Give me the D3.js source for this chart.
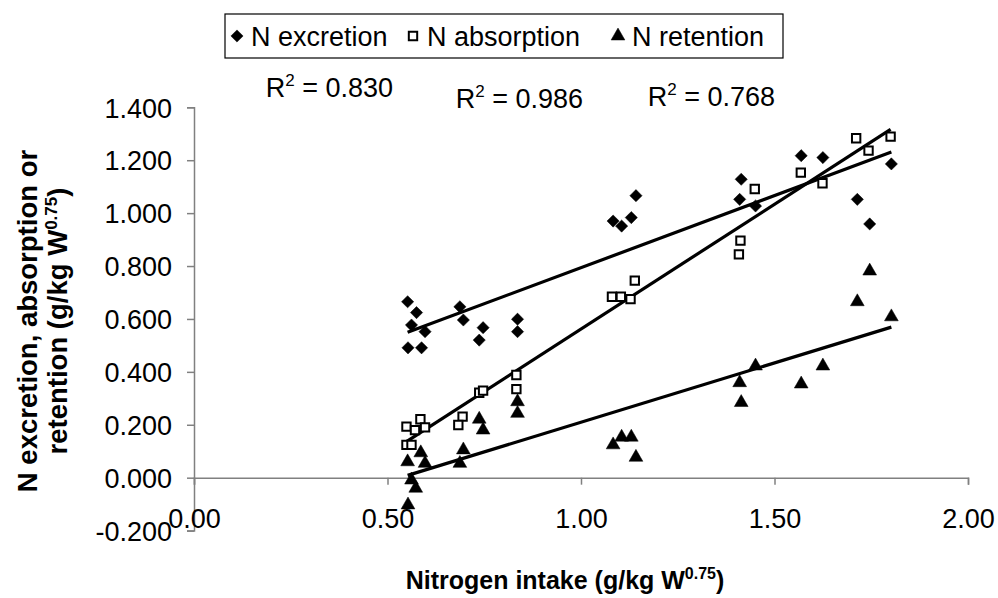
<!DOCTYPE html>
<html>
<head>
<meta charset="utf-8">
<script src="https://cdn.jsdelivr.net/npm/d3@7/dist/d3.min.js"></script>
<style>
  html, body { margin: 0; padding: 0; background: #fff; }
  svg { display: block; font-family: "Liberation Sans", Arial, sans-serif; }
</style>
</head>
<body>
<svg id="chart" width="998" height="598"></svg>
<script>
// Nitrogen intake (g/kg W^0.75) for each observation
const intakeExcretion = [0.552, 0.575, 0.562, 0.597, 0.553, 0.588,
  0.687, 0.696, 0.747, 0.737, 0.836, 0.836,
  1.083, 1.105, 1.130, 1.142,
  1.414, 1.410, 1.451, 1.569, 1.625, 1.714, 1.746, 1.802];
const excretion = [0.665, 0.624, 0.577, 0.552, 0.491, 0.491,
  0.646, 0.596, 0.567, 0.520, 0.599, 0.552,
  0.970, 0.951, 0.983, 1.066,
  1.128, 1.052, 1.027, 1.217, 1.210, 1.052, 0.959, 1.186];

const intakeAbsorption = [0.549, 0.585, 0.571, 0.597, 0.549, 0.562,
  0.694, 0.683, 0.737, 0.747, 0.833, 0.833,
  1.080, 1.103, 1.128, 1.139,
  1.449, 1.412, 1.408, 1.568, 1.624, 1.711, 1.743, 1.800];
const absorption = [0.193, 0.221, 0.180, 0.190, 0.124, 0.124,
  0.231, 0.199, 0.321, 0.329, 0.388, 0.335,
  0.684, 0.684, 0.675, 0.745,
  1.091, 0.896, 0.844, 1.153, 1.113, 1.283, 1.236, 1.289];

const intakeRetention = [0.552, 0.586, 0.597, 0.562, 0.573, 0.553,
  0.696, 0.687, 0.737, 0.747, 0.836, 0.836,
  1.083, 1.105, 1.130, 1.142,
  1.451, 1.410, 1.414, 1.569, 1.625, 1.714, 1.746, 1.802];
const retention = [0.060, 0.094, 0.054, -0.009, -0.040, -0.103,
  0.105, 0.054, 0.221, 0.180, 0.287, 0.243,
  0.124, 0.153, 0.153, 0.077,
  0.422, 0.359, 0.284, 0.354, 0.422, 0.665, 0.781, 0.608];

const seriesNames = ["N excretion", "N absorption", "N retention"];
const rSquared = ["0.830", "0.986", "0.768"];
const xTicks = [0, 0.5, 1, 1.5, 2];
const yTicks = [-0.2, 0, 0.2, 0.4, 0.6, 0.8, 1.0, 1.2, 1.4];

const series = [
  { name: seriesNames[0], xs: intakeExcretion, ys: excretion, symbol: d3.symbolDiamond2, fill: "#000" },
  { name: seriesNames[1], xs: intakeAbsorption, ys: absorption, symbol: d3.symbolSquare, fill: "#fff" },
  { name: seriesNames[2], xs: intakeRetention, ys: retention, symbol: d3.symbolTriangle, fill: "#000" }
];

const svg = d3.select("#chart");
const x = d3.scaleLinear().domain([0, 2]).range([194, 968]);
const y = d3.scaleLinear().domain([-0.2, 1.4]).range([530.6, 107.3]);
const axisColor = "#808080";
const hyphen = f => d => f(d).replace("\u2212", "-");

// Y axis (vertical line at x = 0)
const yAxis = svg.append("g").attr("transform", `translate(${x(0)},0)`)
  .call(d3.axisLeft(y).tickValues(yTicks).tickFormat(hyphen(d3.format(".3f"))).tickSize(7).tickPadding(15));
yAxis.select(".domain").attr("stroke", axisColor).attr("stroke-width", 1.5);
yAxis.selectAll(".tick line").attr("stroke", axisColor).attr("stroke-width", 1.5);
yAxis.selectAll(".tick text").attr("fill", "#000").style("font-size", "27px").attr("dy", "0.36em");

// X axis drawn through y = 0, labels below the plot bottom
const xAxis = svg.append("g").attr("transform", `translate(0,${y(0)})`)
  .call(d3.axisBottom(x).tickValues(xTicks).tickFormat(d3.format(".2f")).tickSize(7).tickPadding(0));
xAxis.select(".domain").attr("stroke", axisColor).attr("stroke-width", 1.5);
xAxis.selectAll(".tick line").attr("stroke", axisColor).attr("stroke-width", 1.5);
xAxis.selectAll(".tick text").attr("fill", "#000").style("font-size", "27px")
  .attr("y", y(-0.2) - y(0) - 12).attr("dy", "0.36em");

// Least-squares trend lines over each series' intake range
function fit(xs, ys) {
  const mx = d3.mean(xs), my = d3.mean(ys);
  let sxy = 0, sxx = 0;
  xs.forEach((v, i) => { sxy += (v - mx) * (ys[i] - my); sxx += (v - mx) * (v - mx); });
  const b = sxy / sxx;
  return { a: my - b * mx, b };
}
const line = d3.line().x(d => x(d[0])).y(d => y(d[1]));
series.forEach(s => {
  const f = fit(s.xs, s.ys);
  const [lo, hi] = d3.extent(s.xs);
  svg.append("path")
    .attr("d", line([[lo, f.a + f.b * lo], [hi, f.a + f.b * hi]]))
    .attr("stroke", "#000").attr("stroke-width", 3.2).attr("fill", "none");
});

// Markers
function marker(sel, s) {
  const sz = s.symbol === d3.symbolSquare ? 70 : (s.symbol === d3.symbolTriangle ? 82 : 95);
  return sel.attr("d", d3.symbol().type(s.symbol).size(sz))
    .attr("fill", s.fill).attr("stroke", "#000")
    .attr("stroke-width", s.symbol === d3.symbolSquare ? 2 : 0.5);
}
series.forEach(s => {
  svg.append("g").selectAll("path").data(s.xs).join("path")
    .attr("transform", (d, i) => `translate(${x(d)},${y(s.ys[i])})`)
    .call(sel => marker(sel, s));
});

// R² annotations
const rPos = [[393, 97], [583, 108], [775, 106]];
rSquared.forEach((r, i) => {
  const t = svg.append("text").attr("x", rPos[i][0]).attr("y", rPos[i][1])
    .attr("text-anchor", "end").style("font-size", "27px").attr("fill", "#000");
  t.append("tspan").text("R");
  t.append("tspan").text("2").attr("dy", -11).style("font-size", "17px");
  t.append("tspan").text(" = " + r).attr("dy", 11);
});

// Legend
const legend = svg.append("g");
legend.append("rect").attr("x", 225).attr("y", 14).attr("width", 558).attr("height", 44)
  .attr("fill", "#fff").attr("stroke", "#000").attr("stroke-width", 1.2);
const legendX = [237, 413, 618];
series.forEach((s, i) => {
  legend.append("path").attr("transform", `translate(${legendX[i]},36)`).call(sel => marker(sel, s));
  legend.append("text").attr("x", legendX[i] + 14).attr("y", 36).attr("dy", "0.36em")
    .style("font-size", "27px").text(s.name);
});

// Axis titles
const yt = svg.append("text").attr("transform", "translate(0,321) rotate(-90)")
  .attr("text-anchor", "middle").style("font-size", "27.5px").style("font-weight", "bold");
yt.append("tspan").attr("x", 0).attr("y", 37).text("N excretion, absorption or");
const l2 = yt.append("tspan").attr("x", 0).attr("y", 67).text("retention (g/kg W");
l2.append("tspan").text("0.75").attr("dy", -10).style("font-size", "17px");
l2.append("tspan").text(")").attr("dy", 10);

const xt = svg.append("text").attr("x", 565).attr("y", 589).attr("text-anchor", "middle")
  .style("font-size", "25px").style("font-weight", "bold");
xt.append("tspan").text("Nitrogen intake (g/kg W");
xt.append("tspan").text("0.75").attr("dy", -10).style("font-size", "16px");
xt.append("tspan").text(")").attr("dy", 10);
</script>
</body>
</html>
